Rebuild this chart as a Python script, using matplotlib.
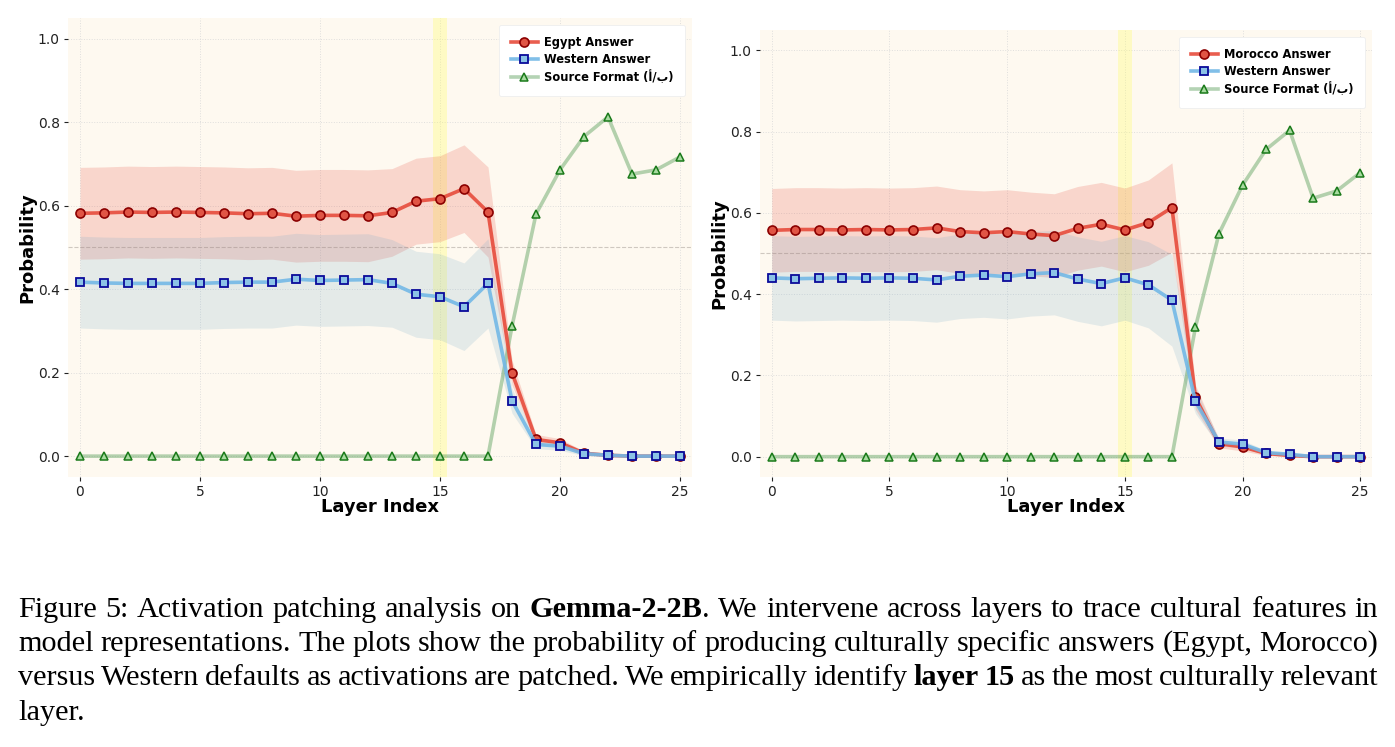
import numpy as np
import matplotlib
matplotlib.use("Agg")
import matplotlib.pyplot as plt

layers = np.arange(26)

# Egypt panel
egypt_answer = [0.582, 0.583, 0.585, 0.584, 0.585, 0.584, 0.583, 0.581, 0.582, 0.575,
                0.577, 0.577, 0.576, 0.584, 0.611, 0.617, 0.641, 0.585, 0.200, 0.040,
                0.032, 0.007, 0.002, 0.000, 0.000, 0.000]
egypt_western = [0.417, 0.415, 0.414, 0.414, 0.414, 0.414, 0.416, 0.417, 0.417, 0.424,
                 0.421, 0.422, 0.423, 0.414, 0.388, 0.382, 0.358, 0.414, 0.133, 0.028,
                 0.024, 0.006, 0.002, 0.000, 0.000, 0.000]
egypt_source = [0.0] * 18 + [0.311, 0.580, 0.686, 0.766, 0.813, 0.676, 0.686, 0.717]
egypt_answer_std = [0.11] * 13 + [0.105, 0.103, 0.103, 0.105, 0.108, 0.03, 0.012,
                                  0.01, 0.005, 0.003, 0.002, 0.002, 0.002]
egypt_western_std = [0.11] * 13 + [0.105, 0.103, 0.103, 0.105, 0.107, 0.03, 0.01,
                                   0.01, 0.005, 0.003, 0.002, 0.002, 0.002]

# Morocco panel
morocco_answer = [0.557, 0.559, 0.559, 0.558, 0.559, 0.558, 0.559, 0.563, 0.554, 0.551,
                  0.554, 0.548, 0.544, 0.562, 0.572, 0.558, 0.576, 0.613, 0.146, 0.032,
                  0.024, 0.008, 0.003, 0.000, 0.000, 0.000]
morocco_western = [0.440, 0.438, 0.439, 0.440, 0.439, 0.440, 0.439, 0.435, 0.444, 0.447,
                   0.443, 0.450, 0.453, 0.437, 0.426, 0.440, 0.423, 0.385, 0.136, 0.036,
                   0.031, 0.010, 0.006, 0.000, 0.000, 0.000]
morocco_source = [0.0] * 18 + [0.319, 0.549, 0.668, 0.756, 0.803, 0.636, 0.654, 0.699]
morocco_answer_std = [0.103] * 14 + [0.103, 0.103, 0.105, 0.11, 0.03, 0.01,
                                     0.01, 0.005, 0.003, 0.002, 0.002, 0.002]
morocco_western_std = [0.104] * 14 + [0.104, 0.104, 0.106, 0.113, 0.03, 0.01,
                                      0.01, 0.005, 0.003, 0.002, 0.002, 0.002]

key_layer = 15

caption = [
    [("Figure", 0), ("5:", 0), ("Activation", 0), ("patching", 0), ("analysis", 0), ("on", 0),
     [("Gemma-2-2B", 1), (".", 0)], ("We", 0), ("intervene", 0), ("across", 0), ("layers", 0),
     ("to", 0), ("trace", 0), ("cultural", 0), ("features", 0), ("in", 0)],
    [("model", 0), ("representations.", 0), ("The", 0), ("plots", 0), ("show", 0), ("the", 0),
     ("probability", 0), ("of", 0), ("producing", 0), ("culturally", 0), ("specific", 0),
     ("answers", 0), ("(Egypt,", 0), ("Morocco)", 0)],
    [("versus", 0), ("Western", 0), ("defaults", 0), ("as", 0), ("activations", 0), ("are", 0),
     ("patched.", 0), ("We", 0), ("empirically", 0), ("identify", 0), ("layer", 1), ("15", 1),
     ("as", 0), ("the", 0), ("most", 0), ("culturally", 0), ("relevant", 0)],
    [("layer.", 0)],
]

W, H = 1395, 747
fig = plt.figure(figsize=(W / 100, H / 100), dpi=100)


def px_axes(x0, y0, x1, y1):
    return fig.add_axes([x0 / W, 1 - y1 / H, (x1 - x0) / W, (y1 - y0) / H])


def panel(ax, answer, western, source, answer_std, western_std, answer_label):
    ans = np.array(answer)
    wes = np.array(western)
    ax.set_facecolor("#fef9f0")
    for s in ax.spines.values():
        s.set_visible(False)
    ax.grid(True, color="#d8d8d8", linestyle=":", linewidth=0.7, alpha=0.8)
    ax.set_axisbelow(True)
    ax.axhline(0.5, color="#b0a8a0", linestyle="--", linewidth=0.8, alpha=0.6, zorder=1)
    ax.axvspan(key_layer - 0.3, key_layer + 0.3, color="#ffff60", alpha=0.3, lw=0, zorder=1)

    ax.fill_between(layers, ans - np.array(answer_std), ans + np.array(answer_std),
                    color="#e74c3c", alpha=0.2, lw=0, zorder=2)
    ax.fill_between(layers, wes - np.array(western_std), wes + np.array(western_std),
                    color="#6fa8c8", alpha=0.18, lw=0, zorder=2)

    ax.plot(layers, answer, color=(0.906, 0.298, 0.235, 0.9), lw=2.6, marker="o", ms=6.5,
            mfc="#e05545", mec="#8b0000", mew=1.2, label=answer_label, zorder=4)
    ax.plot(layers, western, color=(0.45, 0.72, 0.90, 0.9), lw=2.6, marker="s", ms=5.5,
            mfc="#8cc3e6", mec="#0a0a9a", mew=1.3, label="Western Answer", zorder=4)
    ax.plot(layers, source, color=(0.35, 0.62, 0.35, 0.45), lw=2.6, marker="^", ms=6,
            mfc="#a8dba0", mec="#1a7a1a", mew=1.1, label="Source Format (أ/ب)", zorder=3)

    ax.set_xlim(-0.5, 25.5)
    ax.set_ylim(-0.05, 1.05)
    ax.set_xticks([0, 5, 10, 15, 20, 25])
    ax.set_yticks([0.0, 0.2, 0.4, 0.6, 0.8, 1.0])
    ax.tick_params(labelsize=10, colors="#222222", length=3, width=0.8, pad=3)
    ax.set_xlabel("Layer Index", fontsize=13, fontweight="bold", labelpad=-1)
    ax.set_ylabel("Probability", fontsize=13, fontweight="bold", labelpad=1)
    leg = ax.legend(loc="upper right", prop={"weight": "bold", "size": 8.3},
                    frameon=True, framealpha=1.0, facecolor="white", edgecolor="#eeeeee",
                    borderpad=1.0, handlelength=2.4, handletextpad=0.5, labelspacing=0.35,
                    borderaxespad=0.6)
    leg.get_frame().set_linewidth(0.6)


ax1 = px_axes(68, 18, 692, 477)
panel(ax1, egypt_answer, egypt_western, egypt_source, egypt_answer_std, egypt_western_std,
      "Egypt Answer")
ax2 = px_axes(760, 30, 1372, 477)
panel(ax2, morocco_answer, morocco_western, morocco_source, morocco_answer_std,
      morocco_western_std, "Morocco Answer")

# caption, justified
renderer = fig.canvas.get_renderer()
x_left, x_right = 18, 1378
baselines = [617, 651, 685, 720]


def measure(text, bold, size):
    t = fig.text(0, 0, text, family="Liberation Serif", fontsize=size,
                 fontweight="bold" if bold else "normal")
    w = t.get_window_extent(renderer).width
    t.remove()
    return w


def as_words(line):
    return [w if isinstance(w, list) else [w] for w in line]


# pick the size at which the first line fills the width with plain spaces
s0 = 16.0
first = as_words(caption[0])
nat = sum(measure(s, b, s0) for w in first for s, b in w)
sp0 = measure("a a", 0, s0) - measure("aa", 0, s0)
cap_size = s0 * (x_right - x_left) / (nat + sp0 * (len(first) - 1) * 1.05)
space = measure("a a", 0, cap_size) - measure("aa", 0, cap_size)

for li, line in enumerate(caption):
    words = as_words(line)
    widths = [[measure(s, b, cap_size) for s, b in w] for w in words]
    total = sum(sum(ws) for ws in widths)
    if li < len(caption) - 1 and len(words) > 1:
        gap = (x_right - x_left - total) / (len(words) - 1)
    else:
        gap = space
    x = x_left
    for w, ws in zip(words, widths):
        for (s, b), sw in zip(w, ws):
            fig.text(x / W, 1 - baselines[li] / H, s, family="Liberation Serif",
                     fontsize=cap_size, fontweight="bold" if b else "normal",
                     va="baseline", ha="left")
            x += sw
        x += gap

fig.savefig("out.png", dpi=100)
